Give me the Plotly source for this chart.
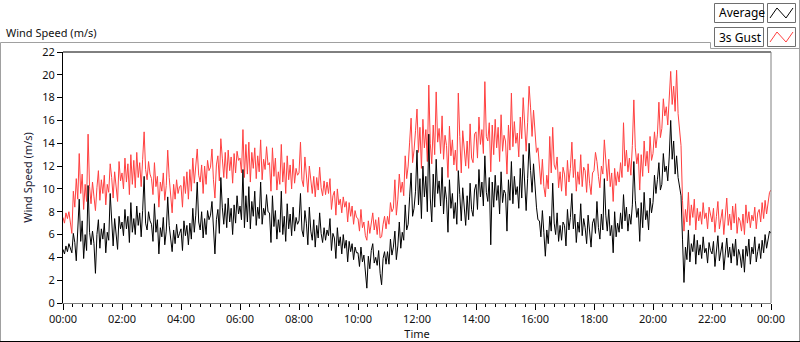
import pandas as pd
import plotly.graph_objects as go

# ---------------- data (3-minute samples, 00:00 .. 24:00) ----------------
start_time = "2024-01-01 00:00"
step = "3min"

avg_speed = [
    4.7, 4.3, 5.0, 4.5, 5.2, 4.8, 4.4, 6.1, 5.3, 3.7, 6.6, 9.1, 5.4, 7.2, 3.9, 6.0, 4.6, 10.3, 6.2, 5.1,      # 00
    6.3, 5.2, 2.6, 6.0, 7.3, 4.8, 6.5, 5.6, 7.0, 4.4, 6.2, 5.5, 9.6, 6.8, 5.0, 7.4, 6.1, 4.7, 7.6, 6.5,      # 01
    7.1, 5.9, 8.2, 6.5, 7.6, 5.3, 8.8, 6.2, 7.4, 6.0, 8.5, 6.8, 7.9, 5.8, 8.1, 11.1, 7.0, 6.4, 8.0, 7.2,     # 02
    6.9, 5.4, 8.7, 6.2, 7.3, 4.3, 6.6, 5.8, 7.5, 5.1, 6.3, 9.3, 6.8, 5.5, 4.5, 6.4, 5.2, 6.9, 5.7, 6.1,      # 03
    6.5, 4.6, 7.2, 5.9, 6.8, 5.1, 7.0, 5.6, 8.3, 6.2, 7.7, 10.6, 7.1, 6.4, 8.0, 5.7, 7.4, 6.0, 8.1, 7.3,     # 04
    7.7, 8.9, 6.5, 4.3, 7.3, 8.2, 6.1, 11.0, 8.4, 6.9, 8.7, 6.6, 9.2, 7.1, 8.3, 6.0, 8.6, 7.0, 9.4, 7.8,     # 05
    8.5, 7.3, 11.7, 6.6, 9.4, 7.1, 10.2, 6.5, 8.9, 7.6, 9.8, 6.8, 8.4, 7.4, 10.6, 6.9, 8.3, 7.7, 9.5, 8.0,   # 06
    7.9, 5.3, 9.4, 6.7, 8.1, 5.6, 7.3, 6.2, 9.8, 6.0, 7.6, 5.4, 8.7, 6.5, 7.8, 5.9, 8.4, 6.3, 7.5, 6.9,      # 07
    7.2, 9.6, 6.4, 5.8, 8.1, 7.0, 5.1, 8.4, 6.3, 5.5, 7.3, 4.9, 6.8, 5.7, 7.9, 6.1, 5.3, 6.6, 5.5, 6.4,      # 08
    5.9, 7.4, 4.6, 6.1, 5.7, 3.9, 6.6, 5.0, 5.8, 4.3, 6.0, 4.8, 5.5, 3.6, 5.4, 4.5, 5.2, 3.8, 4.9, 4.4,      # 09
    4.4, 3.2, 4.9, 3.6, 4.2, 2.9, 1.3, 4.1, 3.0, 4.6, 5.2, 3.5, 4.0, 3.3, 4.6, 2.6, 1.6, 3.9, 4.5, 3.4,      # 10
    4.5, 3.4, 5.6, 4.2, 4.9, 6.3, 3.8, 5.0, 7.1, 4.8, 6.2, 5.5, 8.6, 6.4, 6.9, 9.3, 11.4, 7.6, 8.3, 9.8,     # 11
    13.4, 8.6, 10.9, 7.4, 12.0, 9.3, 11.1, 8.0, 14.8, 9.2, 7.1, 11.3, 8.4, 12.6, 9.6, 10.7, 8.5, 11.9, 7.8, 10.2,  # 12
    9.1, 6.2, 10.8, 8.3, 9.6, 7.4, 8.8, 6.9, 11.6, 9.5, 7.2, 10.1, 8.7, 6.8, 9.4, 7.3, 10.5, 8.2, 7.6, 9.9,  # 13
    10.4, 8.2, 11.7, 9.3, 10.6, 8.5, 12.9, 9.7, 8.9, 11.0, 5.1, 10.6, 8.4, 11.2, 9.0, 10.3, 7.8, 11.5, 8.8, 9.9,  # 14
    9.6, 6.3, 10.8, 9.0, 12.4, 8.7, 11.1, 9.5, 10.2, 8.3, 11.8, 9.2, 13.0, 10.3, 8.1, 10.9, 14.0, 11.6, 9.7, 12.2,  # 15
    10.2, 8.4, 7.3, 7.2, 5.8, 8.1, 6.2, 4.1, 6.4, 5.2, 7.6, 6.3, 10.5, 7.0, 6.0, 7.9, 5.4, 6.8, 5.5, 7.1,    # 16
    6.8, 5.0, 8.2, 6.4, 7.5, 9.6, 6.5, 7.8, 5.3, 7.1, 6.2, 8.7, 5.9, 7.4, 6.6, 5.2, 7.7, 6.1, 4.9, 7.0,      # 17
    7.4, 6.1, 8.9, 6.6, 5.6, 7.8, 6.4, 10.9, 7.7, 6.3, 8.2, 5.9, 6.8, 4.4, 8.0, 5.8, 7.0, 6.2, 7.9, 6.5,     # 18
    9.5, 7.2, 8.4, 6.3, 7.8, 6.9, 8.6, 12.4, 9.0, 7.5, 8.3, 5.4, 8.8, 6.6, 9.7, 7.3, 8.1, 6.4, 9.2, 7.9,     # 19
    8.8, 11.2, 9.6, 10.8, 12.3, 9.9, 10.4, 13.1, 11.5, 12.0, 10.7, 12.8, 16.0, 12.6, 14.2, 11.3, 12.9, 11.0, 10.2, 9.4,  # 20
    5.6, 1.8, 4.9, 3.8, 6.4, 3.6, 5.2, 4.5, 6.0, 3.4, 5.5, 4.2, 5.1, 3.9, 5.8, 4.4, 4.8, 3.5, 5.3, 4.6,      # 21
    4.3, 5.4, 3.2, 4.8, 5.9, 3.7, 4.6, 5.3, 2.9, 4.4, 5.7, 4.0, 4.9, 3.5, 5.2, 4.1, 5.6, 3.3, 4.7, 4.2,      # 22
    3.1, 4.7, 2.7, 5.0, 4.1, 5.6, 3.4, 4.9, 4.3, 5.8, 3.6, 4.5, 5.2, 3.9, 5.5, 4.4, 6.0, 4.8, 5.7, 6.3,      # 23
    6.1,                                                                                                    # 24
]

gust_speed = [
    7.5, 7.0, 7.9, 7.4, 8.0, 7.2, 6.1, 9.8, 8.4, 10.9, 9.1, 13.1, 9.6, 11.3, 8.2, 10.4, 8.9, 14.8, 10.2, 8.7,       # 00
    10.6, 9.3, 8.1, 10.1, 11.6, 9.0, 10.8, 9.6, 11.2, 8.6, 10.4, 9.7, 12.2, 11.0, 9.2, 11.5, 10.3, 8.9, 12.4, 10.7,  # 01
    11.4, 10.0, 12.7, 10.6, 12.2, 9.5, 13.0, 10.4, 12.5, 10.1, 13.2, 11.0, 12.3, 10.2, 12.6, 15.0, 11.7, 10.8, 12.4, 11.3,  # 02
    10.9, 9.5, 12.3, 10.2, 11.1, 8.4, 10.6, 9.8, 11.4, 9.0, 10.3, 13.4, 11.0, 9.3, 7.9, 10.4, 9.1, 10.8, 9.6, 10.2,  # 03
    10.3, 8.4, 11.1, 9.6, 11.5, 9.1, 11.7, 9.8, 12.7, 10.5, 12.2, 13.5, 11.2, 10.6, 12.1, 9.6, 12.0, 10.4, 12.5, 11.6,  # 04
    11.9, 13.5, 10.8, 9.2, 12.1, 12.9, 10.7, 14.4, 12.7, 11.0, 13.2, 10.9, 13.4, 11.6, 12.8, 10.5, 13.1, 11.4, 13.3, 12.5,  # 05
    12.7, 11.4, 15.2, 11.0, 13.9, 11.3, 14.1, 10.6, 13.2, 11.8, 13.6, 10.9, 12.9, 11.5, 14.3, 10.8, 12.6, 11.7, 13.7, 12.1,  # 06
    12.3, 9.8, 13.6, 11.1, 12.7, 9.9, 11.5, 10.4, 13.9, 10.6, 12.3, 9.6, 12.9, 10.8, 12.1, 10.0, 12.6, 10.5, 11.8, 11.2,  # 07
    11.4, 14.1, 10.8, 10.2, 12.8, 11.2, 9.7, 12.0, 10.5, 9.6, 11.1, 9.3, 11.0, 9.9, 11.9, 10.1, 9.4, 10.7, 9.5, 10.6,  # 08
    9.6, 10.9, 8.2, 9.4, 9.8, 7.7, 10.0, 8.6, 9.1, 7.9, 9.3, 8.4, 8.9, 7.1, 8.8, 7.6, 8.5, 6.9, 8.1, 7.5,           # 09
    7.4, 6.3, 8.2, 6.6, 7.1, 5.9, 5.5, 7.2, 6.1, 7.0, 7.9, 6.4, 7.3, 6.0, 7.5, 5.7, 5.8, 6.9, 7.6, 6.5,            # 10
    7.6, 6.9, 8.8, 8.0, 8.3, 10.8, 7.7, 9.1, 11.3, 9.7, 10.6, 9.4, 12.9, 10.9, 12.0, 14.1, 16.2, 12.3, 13.4, 15.1,   # 11
    17.0, 13.2, 15.4, 11.8, 16.1, 13.6, 15.2, 12.4, 19.1, 14.0, 12.2, 15.6, 13.0, 18.5, 14.1, 15.3, 13.1, 16.4, 12.6, 14.7,  # 12
    13.8, 11.0, 15.5, 12.9, 14.3, 12.1, 13.4, 11.6, 18.4, 14.6, 11.4, 15.1, 13.5, 12.0, 14.2, 11.8, 15.7, 12.7, 12.3, 14.8,  # 13
    15.0, 12.7, 16.3, 13.9, 15.2, 13.1, 19.4, 14.6, 14.2, 15.8, 11.5, 15.6, 13.0, 16.1, 13.6, 15.4, 12.4, 16.5, 13.3, 14.7,  # 14
    14.2, 11.3, 15.6, 13.4, 18.4, 13.7, 15.9, 14.0, 14.9, 12.8, 16.3, 14.4, 18.0, 15.2, 13.3, 15.8, 19.0, 17.1, 14.6, 16.9,  # 15
    15.1, 13.2, 13.6, 11.9, 10.4, 12.6, 10.2, 9.3, 11.2, 10.0, 14.6, 11.4, 15.4, 12.1, 11.7, 12.8, 10.1, 11.5, 9.8, 11.9,  # 16
    11.3, 9.4, 12.5, 10.6, 11.8, 14.1, 11.0, 12.6, 9.8, 11.5, 10.4, 13.0, 10.2, 11.9, 11.6, 9.7, 12.2, 10.5, 9.5, 11.4,  # 17
    11.6, 13.2, 12.4, 11.1, 10.1, 12.0, 11.3, 14.3, 12.0, 10.7, 12.6, 10.2, 11.4, 8.9, 11.8, 10.3, 11.5, 10.6, 12.3, 11.0,  # 18
    15.8, 12.0, 13.4, 11.5, 12.7, 11.2, 13.8, 17.8, 13.6, 12.2, 13.1, 9.9, 13.0, 11.1, 14.2, 12.0, 13.3, 11.4, 14.6, 12.5,  # 19
    13.1, 15.0, 13.6, 14.8, 17.6, 14.5, 15.3, 17.9, 16.4, 17.2, 15.6, 18.1, 20.3, 17.4, 19.0, 16.8, 20.4, 16.6, 14.9, 13.8,  # 20
    9.0, 6.3, 8.2, 7.1, 9.7, 6.8, 8.6, 7.5, 9.1, 6.4, 8.3, 7.2, 8.0, 6.9, 8.8, 7.4, 7.9, 6.5, 8.4, 7.7,            # 21
    7.1, 8.3, 6.2, 7.6, 8.9, 6.5, 7.4, 8.2, 6.0, 7.3, 9.2, 6.8, 7.8, 6.4, 8.5, 7.0, 8.7, 6.1, 7.5, 7.2,            # 22
    6.3, 7.8, 6.0, 8.6, 7.0, 8.0, 6.6, 7.7, 7.2, 8.4, 6.5, 7.9, 8.2, 7.1, 8.8, 7.4, 9.0, 7.8, 8.7, 9.7,            # 23
    9.9,                                                                                                          # 24
]

y_ticks = list(range(0, 23, 2))

avg_times = pd.date_range(start_time, periods=len(avg_speed), freq=step)
gust_times = pd.date_range(start_time, periods=len(gust_speed), freq=step)

# ---------------- layout geometry (pixels) ----------------
W, H = 800, 342
L, R, T, B = 63, 771, 52, 303


def px(x):
    return (x - L) / (R - L)


def py(y):
    return (B - y) / (B - T)


FONT = "Noto Sans"
TXT = "#111111"

fig = go.Figure()
fig.add_trace(go.Scatter(x=gust_times, y=gust_speed, mode="lines", name="3s Gust",
                         line=dict(color="#ff4040", width=1)))
fig.add_trace(go.Scatter(x=avg_times, y=avg_speed, mode="lines", name="Average",
                         line=dict(color="#000000", width=1)))

fig.update_layout(
    width=W, height=H,
    margin=dict(l=L, r=W - R, t=T, b=H - B, pad=0, autoexpand=False),
    paper_bgcolor="white", plot_bgcolor="white",
    showlegend=False,
    font=dict(family=FONT, size=11, color=TXT),
)

fig.update_xaxes(
    type="date", automargin=False,
    range=[pd.Timestamp(start_time), pd.Timestamp(start_time) + pd.Timedelta(hours=24)],
    tick0=start_time, dtick=2 * 3600 * 1000, tickformat="%H:%M",
    ticks="outside", ticklen=6, tickcolor="black", tickwidth=1,
    minor=dict(dtick=20 * 60 * 1000, ticklen=3, tickcolor="black",
               ticks="outside", showgrid=False),
    showgrid=False, zeroline=False,
    showline=True, linecolor="#808080", linewidth=1,
    tickfont=dict(family=FONT, size=11, color=TXT),
    title=dict(text="Time", standoff=2, font=dict(family=FONT, size=11, color=TXT)),
)
fig.update_yaxes(
    range=[0, 22], tickvals=y_ticks, automargin=False,
    ticks="outside", ticklen=5, tickcolor="black", tickwidth=1,
    showgrid=False, zeroline=False,
    showline=True, linecolor="black", linewidth=1,
    tickfont=dict(family=FONT, size=11, color=TXT),
    title=dict(text="Wind Speed (m/s)", standoff=7,
               font=dict(family=FONT, size=11, color="#1a1a33")),
)

shapes = []
# plot frame: top black, right gray
shapes.append(dict(type="line", xref="paper", yref="paper", x0=0, x1=1, y0=1, y1=1,
                   line=dict(color="black", width=1)))
shapes.append(dict(type="line", xref="paper", yref="paper", x0=1, x1=1, y0=0, y1=1,
                   line=dict(color="#808080", width=1)))
# outer panel
g = "#a0a0a0"
for (x0, y0, x1, y1, c) in [
    (0.5, 42.5, 710.5, 42.5, g),
    (710.5, 42.5, 710.5, 48.5, g),
    (710.5, 48.5, 799.5, 48.5, g),
    (799.5, 0, 799.5, 342, g),
    (0.5, 42.5, 0.5, 342, g),
    (0, 341.5, 800, 341.5, "black"),
]:
    shapes.append(dict(type="line", xref="paper", yref="paper",
                       x0=px(x0), x1=px(x1), y0=py(y0), y1=py(y1),
                       line=dict(color=c, width=1)))

# legend boxes
legend_rows = [("Average", "black", 3), ("3s Gust", "#ff4040", 27)]
annotations = []
for label, color, top in legend_rows:
    bot = top + 19
    shapes.append(dict(type="rect", xref="paper", yref="paper",
                       x0=px(714.5), x1=px(763.5), y0=py(bot + 0.5), y1=py(top + 0.5),
                       line=dict(color="#6e6e6e", width=1), fillcolor="white"))
    shapes.append(dict(type="rect", xref="paper", yref="paper",
                       x0=px(767.5), x1=px(795.5), y0=py(bot + 0.5), y1=py(top + 0.5),
                       line=dict(color="#6e6e6e", width=1), fillcolor="white"))
    pts = [(770, top + 15), (777, top + 5), (786, top + 15), (793, top + 5)]
    path = "M " + " L ".join(f"{px(a):.5f},{py(b):.5f}" for a, b in pts)
    shapes.append(dict(type="path", xref="paper", yref="paper", path=path,
                       line=dict(color=color, width=1)))
    annotations.append(dict(text=label, xref="paper", yref="paper",
                            x=px(716.5), y=py(top + 10), xanchor="left", yanchor="middle",
                            showarrow=False,
                            font=dict(family=FONT, size=12, color="#000000")))

annotations.append(dict(text="Wind Speed (m/s)", xref="paper", yref="paper",
                        x=px(4), y=py(32), xanchor="left", yanchor="middle",
                        showarrow=False, font=dict(family=FONT, size=11, color=TXT)))

fig.update_layout(shapes=shapes, annotations=annotations)

fig.write_html("out.html", config={"displayModeBar": False},
               post_script="document.body.style.margin='0';")
